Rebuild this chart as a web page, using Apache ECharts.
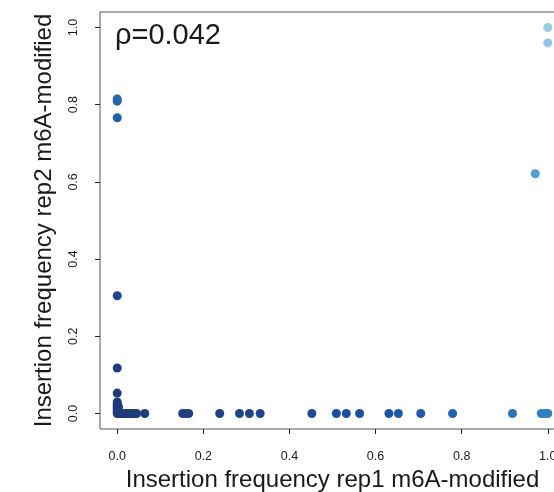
<!DOCTYPE html>
<html>
<head>
<meta charset="utf-8">
<script src="https://cdn.jsdelivr.net/npm/echarts@6/dist/echarts.min.js"></script>
<style>
html,body{margin:0;padding:0;background:#fff;}
#c{width:554px;height:492px;}
</style>
</head>
<body>
<div id="c"></div>
<script>
// Insertion frequencies (rep1 = x, rep2 = y)
var rep1 = [
  0, 0.003, 0.006, 0.01, 0.014, 0.018, 0.022, 0.026, 0.03, 0.035, 0.04, 0.045,
  0.064, 0.152, 0.158, 0.166, 0.238, 0.284, 0.307, 0.332,
  0.452, 0.509, 0.532, 0.563, 0.631, 0.653, 0.705, 0.779, 0.918, 0.985, 0.993, 1.0,
  0, 0, 0, 0, 0, 0, 0.003, 0.003, 0, 0, 0, 0, 0, 0,
  0.971, 1.0, 1.0
];
var rep2 = [
  0, 0, 0, 0, 0, 0, 0, 0, 0, 0, 0, 0,
  0, 0, 0, 0, 0, 0, 0, 0,
  0, 0, 0, 0, 0, 0, 0, 0, 0, 0, 0, 0,
  0.005, 0.01, 0.015, 0.02, 0.025, 0.03, 0.008, 0.018, 0.053, 0.118, 0.305, 0.766, 0.809, 0.815,
  0.621, 0.96, 1.0
];
var tickValues = [0, 0.2, 0.4, 0.6, 0.8, 1.0];
var tickLabels = ['0.0', '0.2', '0.4', '0.6', '0.8', '1.0'];
var rhoText = '\u03c1=0.042';

var points = rep1.map(function (x, i) { return [x, rep2[i], x + rep2[i]]; });

var font = "'Liberation Sans', Arial, Helvetica, sans-serif";
var chart = echarts.init(document.getElementById('c'), null, {renderer: 'canvas'});
chart.setOption({
  animation: false,
  backgroundColor: '#fff',
  title: {
    text: rhoText, left: 110, top: 16,
    textStyle: {fontFamily: font, fontSize: 29, fontWeight: 'normal', color: '#1a1a1a'}
  },
  grid: {
    left: 100, top: 12, width: 465, height: 417,
    outerBoundsMode: 'none', containLabel: false,
    show: true, borderColor: '#555', borderWidth: 1, backgroundColor: 'transparent'
  },
  visualMap: {
    show: false, type: 'continuous', dimension: 2, min: 0, max: 2,
    inRange: {color: ['#1e3a78', '#1f4184', '#1c4d9c', '#1f5eac', '#3180c3', '#4596d0', '#4b9dd6', '#52a5da', '#9bcae6']}
  },
  xAxis: {
    type: 'value', min: -0.04, max: 1.04,
    name: 'Insertion frequency rep1 m6A-modified',
    nameLocation: 'middle', nameGap: 35,
    nameTextStyle: {fontFamily: font, fontSize: 24, color: '#1a1a1a'},
    axisLine: {show: false, onZero: false},
    splitLine: {show: false},
    axisTick: {show: true, inside: false, length: 5, customValues: tickValues, lineStyle: {color: '#222'}},
    axisLabel: {
      customValues: tickValues, margin: 21, fontFamily: font, fontSize: 12.5, color: '#1a1a1a',
      formatter: function (v) { return tickLabels[tickValues.indexOf(Math.round(v * 10) / 10)]; }
    }
  },
  yAxis: {
    type: 'value', min: -0.04, max: 1.04,
    name: 'Insertion frequency rep2 m6A-modified',
    nameLocation: 'middle', nameGap: 44,
    nameTextStyle: {fontFamily: font, fontSize: 24, color: '#1a1a1a'},
    axisLine: {show: false, onZero: false},
    splitLine: {show: false},
    axisTick: {show: true, inside: false, length: 5, customValues: tickValues, lineStyle: {color: '#222'}},
    axisLabel: {
      customValues: tickValues, rotate: 90, margin: 20, fontFamily: font, fontSize: 12.5, color: '#1a1a1a',
      formatter: function (v) { return tickLabels[tickValues.indexOf(Math.round(v * 10) / 10)]; }
    }
  },
  series: [{
    type: 'scatter',
    symbol: 'circle',
    symbolSize: 9,
    data: points,
    itemStyle: {opacity: 1}
  }]
});
</script>
</body>
</html>
